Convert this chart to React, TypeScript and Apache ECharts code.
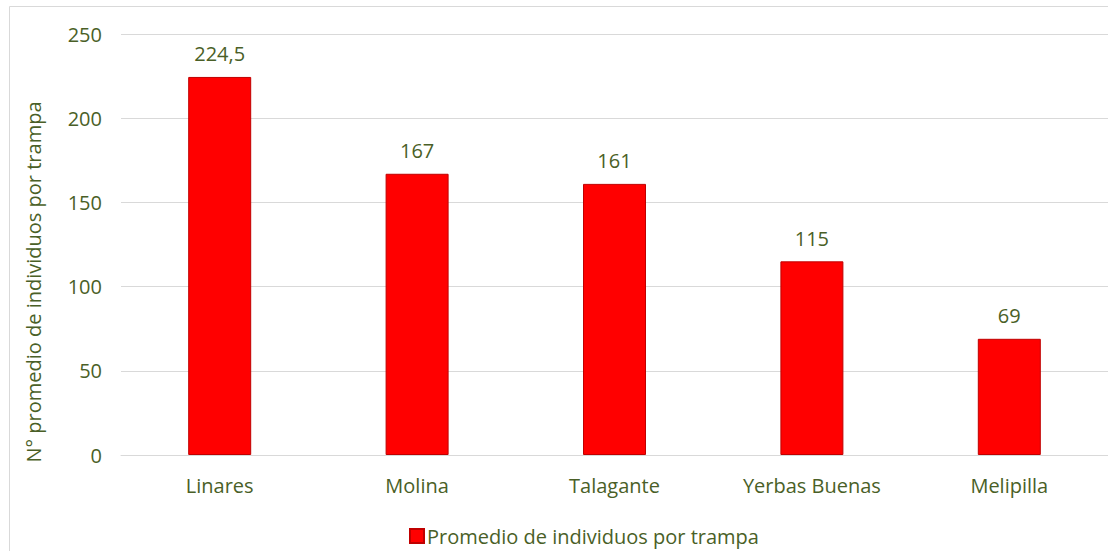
import React, { useEffect, useRef } from "react";
import * as echarts from "echarts";

const categories = ["Linares", "Molina", "Talagante", "Yerbas Buenas", "Melipilla"];
const values = [224.5, 167, 161, 115, 69];
const seriesName = "Promedio de individuos por trampa";
const yAxisTitle = "N° promedio de individuos por trampa";

const TEXT = "#4A5F27";
const FONT = "'Open Sans', sans-serif";
const FS = 20;

export default function App() {
  const ref = useRef<HTMLDivElement>(null);
  useEffect(() => {
    document.body.style.margin = "0";
    document.body.style.overflow = "hidden";
    const chart = echarts.init(ref.current!, null, { renderer: "svg" });
    chart.setOption({
      animation: false,
      backgroundColor: "#ffffff",
      textStyle: { fontFamily: FONT },
      grid: { left: 121, right: -3, top: 34, bottom: 96, containLabel: false },
      legend: {
        left: 409,
        top: 526,
        padding: 0,
        itemWidth: 14,
        itemHeight: 14,
        itemGap: 6,
        icon: "rect",
        textStyle: { color: TEXT, fontSize: FS, fontFamily: FONT, padding: [0, 0, 0, -2] },
        data: [seriesName],
      },
      xAxis: {
        type: "category",
        data: categories,
        axisLine: { lineStyle: { color: "#d9d9d9", width: 1 } },
        axisTick: { show: false },
        axisLabel: { color: TEXT, fontSize: FS, fontFamily: FONT, margin: 20 },
      },
      yAxis: {
        type: "value",
        min: 0,
        max: 250,
        interval: 50,
        axisLine: { show: false },
        axisTick: { show: false },
        axisLabel: { color: TEXT, fontSize: FS, fontFamily: FONT, margin: 19 },
        splitLine: { lineStyle: { color: "#d9d9d9", width: 1 } },
      },
      graphic: [
        {
          type: "rect",
          silent: true,
          shape: { x: 9.5, y: 6.5, width: 1130, height: 580 },
          style: { fill: "none", stroke: "#d9d9d9", lineWidth: 1 },
        },
        {
          type: "text",
          x: 33,
          y: 282,
          rotation: Math.PI / 2,
          style: {
            text: yAxisTitle,
            fill: TEXT,
            fontSize: FS,
            fontFamily: FONT,
            align: "center",
            verticalAlign: "middle",
          },
        },
      ],
      series: [
        {
          name: seriesName,
          type: "bar",
          data: values,
          barWidth: 63,
          itemStyle: { color: "#FF0000", borderColor: "#C00000", borderWidth: 1 },
          label: {
            show: true,
            position: "top",
            distance: 13,
            color: TEXT,
            fontSize: FS,
            fontFamily: FONT,
            formatter: (p: any) => String(p.value).replace(".", ","),
          },
        },
      ],
    });
    return () => chart.dispose();
  }, []);
  return <div ref={ref} style={{ width: 1108, height: 551 }} />;
}
